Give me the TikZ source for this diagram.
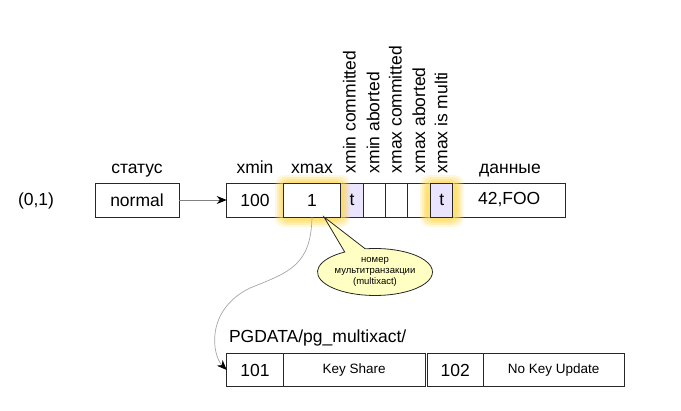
\documentclass[tikz,border=0pt]{standalone}
\usepackage{fontspec}
\setmainfont{Liberation Sans}
\usetikzlibrary{shapes.callouts,shapes.geometric,arrows.meta,calc}
\definecolor{lav}{RGB}{234,228,255}
\definecolor{glowc}{RGB}{255,218,85}
\definecolor{notec}{RGB}{255,255,196}
\definecolor{edge}{RGB}{40,40,40}
\tikzset{
  cell/.style={draw=edge, line width=0.9pt, fill=white, inner sep=0pt, outer sep=0pt,
    minimum height=34, font=\fontsize{17.5}{20}\selectfont},
  bcell/.style={cell, minimum height=33.4},
  smallcell/.style={bcell, font=\fontsize{13.5}{16}\selectfont},
  flag/.style={cell, fill=lav},
  lbl/.style={inner sep=0pt, outer sep=0pt, font=\fontsize{17.5}{20}\selectfont},
  vlbl/.style={lbl, rotate=90, anchor=base west},
  glowring/.style={fill=glowc, rounded corners=9},
  link/.style={draw=gray, line width=0.7pt},
  tip/.style={-{Stealth[black, length=10pt, width=8pt]}},
}
\begin{document}
\begin{tikzpicture}[x=1pt,y=-1pt]
\useasboundingbox (0,0) rectangle (681,411);

% tuple row (cells under the glows)
\node[cell, minimum width=84] (st) at (137,200) {normal};
\node[cell, minimum width=56.6] (xmin) at (255,200) {100};
\node[flag, minimum width=22.6] (f1) at (352,200) {t};
\node[cell, minimum width=22] (f2) at (374.3,200) {};
\node[cell, minimum width=22.4] (f3) at (396.5,200) {};
\node[cell, minimum width=23] (f4) at (419.2,200) {};
\node[cell, minimum width=113] (data) at (509.2,200) {42,FOO};

% glows
\foreach \o/\a in {0/0.2,2/0.25,4/0.35,6/0.45}{
  \fill[glowring, opacity=\a] (275+\o,175+\o) rectangle (350-\o,227-\o);
  \fill[glowring, opacity=\a] (420+\o,175+\o) rectangle (463.5-\o,227-\o);
}

% highlighted cells
\node[cell, minimum width=57.4] (xmax) at (312,200) {1};
\node[flag, minimum width=22] (f5) at (441.7,200) {t};

% labels
\node[lbl, anchor=base] (lst) at (137,173.3) {статус};
\node[lbl, anchor=base] (lxmin) at (255,173.3) {xmin};
\node[lbl, anchor=base] (lxmax) at (312,173.3) {xmax};
\node[lbl, anchor=base] (ldata) at (510,173.3) {данные};
\node[lbl, anchor=base] (ctid) at (36,205.7) {(0,1)};
\node[vlbl] (v1) at (355.7,173.3) {xmin committed};
\node[vlbl] (v2) at (379.3,173.3) {xmin aborted};
\node[vlbl] (v3) at (401.7,173.3) {xmax committed};
\node[vlbl] (v4) at (425,173.3) {xmax aborted};
\node[vlbl] (v5) at (447.3,173.3) {xmax is multi};

% arrow status -> tuple
\draw[link, tip] (st.east) -- (xmin.west);

% multixact row
\node[lbl, anchor=base west] (pg) at (229,342.5) {PGDATA/pg\_multixact/};
\node[bcell, minimum width=56.6] (b1) at (255,370) {101};
\node[smallcell, minimum width=141.7] (b2) at (354.2,370) {Key Share};
\node[bcell, minimum width=56] (b3) at (455.3,370) {102};
\node[smallcell, minimum width=140.7] (b4) at (553.7,370) {No Key Update};

% curved connector
\draw[draw=gray!70, line width=0.7pt, tip] (xmax.south) .. controls (311,265) and (290,272) .. (250,288)
   .. controls (205,310) and (212,355) .. (b1.west);

% callout
\node[ellipse callout, draw=edge, line width=0.8pt, fill=notec, minimum width=115, minimum height=47,
  inner sep=0pt, callout pointer arc=22, callout absolute pointer={($(xmax.south)+(12,0)$)},
  align=center, font=\fontsize{9.5}{11}\selectfont] (note) at (375,272)
  {номер\\мультитранзакции\\(multixact)};
\end{tikzpicture}
\end{document}
